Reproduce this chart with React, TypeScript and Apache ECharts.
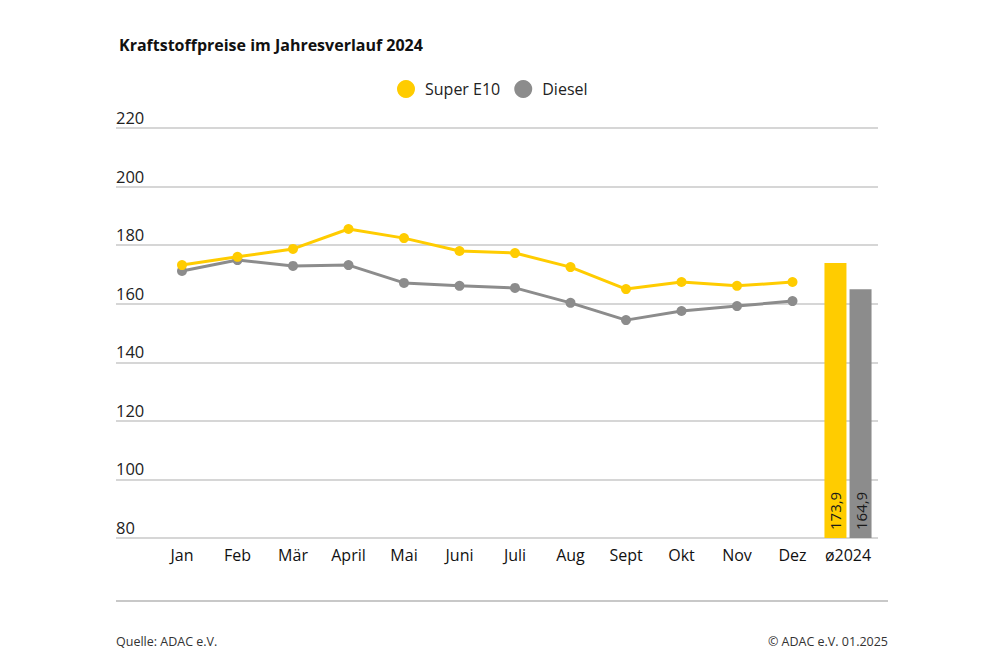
import React, { useEffect, useRef } from "react";
import * as echarts from "echarts";

const categories = ["Jan", "Feb", "Mär", "April", "Mai", "Juni", "Juli", "Aug", "Sept", "Okt", "Nov", "Dez", "ø2024"];
const superE10 = [173.2, 176.0, 178.7, 185.5, 182.4, 178.0, 177.3, 172.5, 165.0, 167.4, 166.1, 167.4];
const diesel = [171.2, 174.9, 172.9, 173.2, 167.1, 166.1, 165.4, 160.3, 154.4, 157.5, 159.2, 160.9];
const avgSuper = 173.9;
const avgDiesel = 164.9;
const yTicks = [80, 100, 120, 140, 160, 180, 200, 220];

const YELLOW = "#FFCC00";
const GRAY = "#8C8C8C";
const FONT = "'Open Sans', 'Noto Sans', sans-serif";

export default function App() {
  const ref = useRef<HTMLDivElement>(null);
  useEffect(() => {
    if (!ref.current) return;
    const chart = echarts.init(ref.current, undefined, { renderer: "svg" });
    const n = categories.length;
    const lineData = (arr: number[]) => categories.map((_, i) => (i < arr.length ? arr[i] : null));
    const barData = (v: number) => categories.map((_, i) => (i === n - 1 ? v : "-"));
    const fmt = (v: number) => v.toFixed(1).replace(".", ",");
    const barLabel = {
      show: true,
      position: "insideBottom",
      rotate: 90,
      align: "left",
      verticalAlign: "middle",
      distance: 8,
      fontFamily: FONT,
      fontSize: 15,
      color: "#1a1a1a",
      formatter: (p: any) => fmt(p.value),
    };
    chart.setOption({
      animation: false,
      backgroundColor: "#ffffff",
      textStyle: { fontFamily: FONT },
      title: {
        text: "Kraftstoffpreise im Jahresverlauf 2024",
        left: 114,
        top: 32,
        textStyle: { fontFamily: FONT, fontSize: 16, fontWeight: "bold", color: "#111" },
      },
      legend: {
        data: ["Super E10", "Diesel"],
        left: 392,
        top: 75,
        itemWidth: 18,
        itemHeight: 18,
        itemGap: 14,
        icon: "circle",
        textStyle: { fontFamily: FONT, fontSize: 16, color: "#222", padding: [0, 0, 0, 5] },
      },
      grid: [
        { left: 116, right: 122, top: 128, bottom: 129 },
        { left: 154.25, width: 721.5, top: 128, bottom: 129 },
      ],
      xAxis: [
        { type: "category", gridIndex: 0, data: categories, show: false },
        {
          type: "category",
          gridIndex: 1,
          data: categories,
          axisLine: { show: false },
          axisTick: { show: false },
          axisLabel: { interval: 0, fontFamily: FONT, fontSize: 16, color: "#111", fontWeight: 500, margin: 9 },
        },
      ],
      yAxis: [
        {
          type: "value",
          gridIndex: 0,
          min: yTicks[0],
          max: yTicks[yTicks.length - 1],
          interval: 20,
          axisLine: { show: false },
          axisTick: { show: false },
          splitLine: { show: true, lineStyle: { color: "#c8c8c8", width: 1.5 } },
          axisLabel: {
            inside: true,
            fontFamily: FONT,
            fontSize: 16.5,
            color: "#222",
            verticalAlign: "bottom",
            align: "left",
            margin: 0,
            padding: [0, 0, 2, 0],
          },
        },
        {
          type: "value",
          gridIndex: 1,
          min: yTicks[0],
          max: yTicks[yTicks.length - 1],
          interval: 20,
          show: false,
          splitLine: { show: false },
        },
      ],
      series: [
        {
          name: "Super E10",
          type: "line",
          xAxisIndex: 1,
          yAxisIndex: 1,
          data: lineData(superE10),
          symbol: "circle",
          symbolSize: 10,
          itemStyle: { color: YELLOW },
          lineStyle: { color: YELLOW, width: 3 },
          z: 3,
        },
        {
          name: "Diesel",
          type: "line",
          xAxisIndex: 1,
          yAxisIndex: 1,
          data: lineData(diesel),
          symbol: "circle",
          symbolSize: 10,
          itemStyle: { color: GRAY },
          lineStyle: { color: GRAY, width: 3 },
          z: 2,
        },
        {
          name: "Super E10",
          type: "bar",
          xAxisIndex: 1,
          yAxisIndex: 1,
          data: barData(avgSuper),
          barWidth: 22,
          barGap: "14%",
          itemStyle: { color: YELLOW },
          label: barLabel,
        },
        {
          name: "Diesel",
          type: "bar",
          xAxisIndex: 1,
          yAxisIndex: 1,
          data: barData(avgDiesel),
          barWidth: 22,
          barGap: "14%",
          itemStyle: { color: GRAY },
          label: barLabel,
        },
      ],
      graphic: [
        {
          type: "line",
          shape: { x1: 116, y1: 601, x2: 888, y2: 601 },
          style: { stroke: "#c8c8c8", lineWidth: 2 },
        },
        {
          type: "text",
          left: 116,
          top: 635,
          style: { text: "Quelle: ADAC e.V.", fontFamily: FONT, fontSize: 12.5, fill: "#333" },
        },
        {
          type: "text",
          right: 112,
          top: 635,
          style: { text: "© ADAC e.V. 01.2025", fontFamily: FONT, fontSize: 12.5, fill: "#333" },
        },
      ],
    });
    return () => chart.dispose();
  }, []);
  return <div ref={ref} style={{ width: 1000, height: 667, position: "absolute", left: 0, top: 0 }} />;
}
